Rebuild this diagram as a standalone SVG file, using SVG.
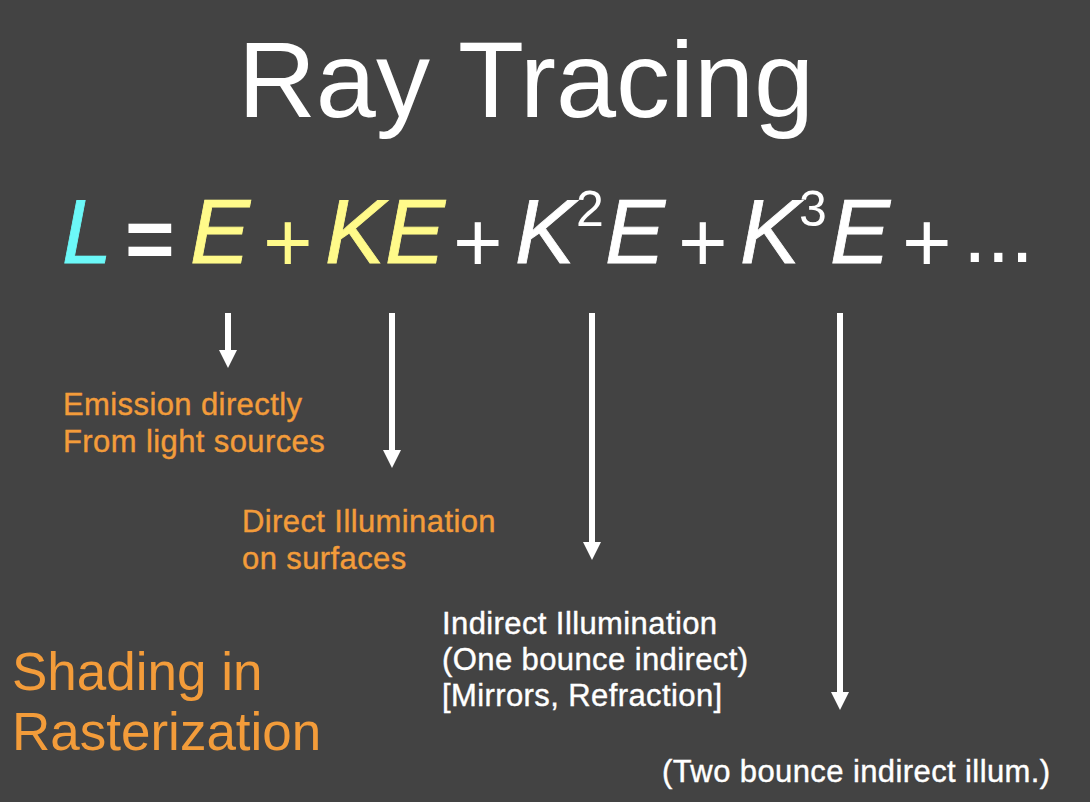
<svg xmlns="http://www.w3.org/2000/svg" width="1090" height="802" viewBox="0 0 1090 802">
<defs>
<style>
.t{font-family:"Liberation Sans",Arial,sans-serif}
.eq{font-family:"Liberation Sans",Arial,sans-serif;font-style:italic;font-size:90px;fill:#fff;stroke:#fff;stroke-width:0.8}
.op{font-family:"Liberation Sans",Arial,sans-serif;font-size:85px;fill:#fff}
.sup{font-family:"Liberation Sans",Arial,sans-serif;font-size:50px;fill:#fff}
.y{fill:#FFFA8A;stroke:#FFFA8A}
.lb{font-size:31px;letter-spacing:0.4px;stroke-width:0.4}
.or{fill:#F39C3A;stroke:#F39C3A}
.wh{fill:#fff;stroke:#fff}
.arr{stroke:#fff;stroke-width:6;fill:none}
</style>
<marker id="ah" viewBox="0 0 10 10" refX="0" refY="5" markerUnits="userSpaceOnUse" markerWidth="18" markerHeight="20" orient="auto">
<path d="M0,0 L10,5 L0,10 z" fill="#fff"/>
</marker>
</defs>
<rect width="1090" height="802" fill="#434343"/>
<g id="title"><text class="t" x="526" y="117" font-size="108" fill="#fff" text-anchor="middle">Ray Tracing</text></g>
<g id="equation">
<text class="eq" x="62" y="263" style="fill:#6CF8F8;stroke:#6CF8F8">L</text>
<text class="op" x="125" y="268" font-size="76" font-weight="bold">=</text>
<text class="eq y" x="190" y="263">E</text>
<text class="op" x="263" y="272" style="fill:#FFFA8A">+</text>
<text class="eq y" x="325" y="263">KE</text>
<text class="op" x="453" y="272">+</text>
<text class="eq" x="515" y="263">K</text>
<text class="sup" x="576" y="226">2</text>
<text class="eq" x="605" y="263">E</text>
<text class="op" x="678" y="272">+</text>
<text class="eq" x="740" y="263">K</text>
<text class="sup" x="799" y="226">3</text>
<text class="eq" x="830" y="263">E</text>
<text class="op" x="902" y="272">+</text>
<text class="op" x="963" y="262" font-size="80">...</text>
</g>
<g id="connectors">
<line class="arr" x1="228" y1="313" x2="228" y2="350" marker-end="url(#ah)"/>
<line class="arr" x1="392" y1="313" x2="392" y2="450" marker-end="url(#ah)"/>
<line class="arr" x1="592" y1="313" x2="592" y2="542" marker-end="url(#ah)"/>
<line class="arr" x1="840" y1="313" x2="840" y2="692" marker-end="url(#ah)"/>
</g>
<g id="emission"><text class="t lb or" x="63" y="415">Emission directly</text><text class="t lb or" x="63" y="452">From light sources</text></g>
<g id="direct"><text class="t lb or" x="242" y="532">Direct Illumination</text><text class="t lb or" x="242" y="569">on surfaces</text></g>
<g id="indirect"><text class="t lb wh" x="442" y="634">Indirect Illumination</text><text class="t lb wh" x="442" y="670">(One bounce indirect)</text><text class="t lb wh" x="442" y="706">[Mirrors, Refraction]</text></g>
<g id="twobounce"><text class="t lb wh" x="662" y="782">(Two bounce indirect illum.)</text></g>
<g id="shading"><text class="t" x="12" y="690" font-size="53" fill="#F39C3A">Shading in</text><text class="t" x="12" y="750" font-size="53" fill="#F39C3A">Rasterization</text></g>
</svg>
